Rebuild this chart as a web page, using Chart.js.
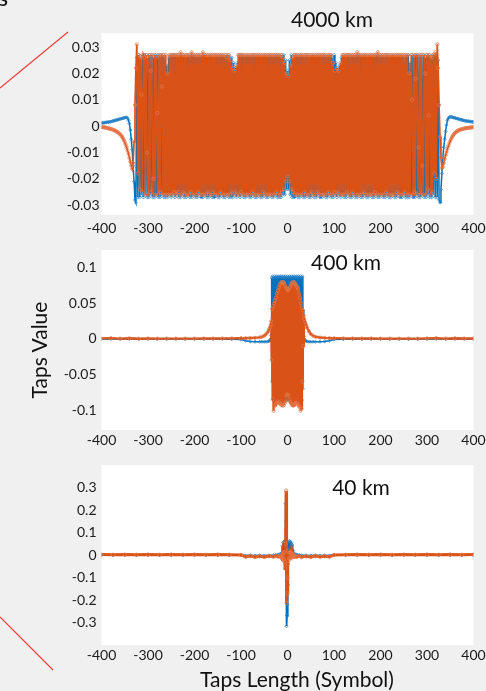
<!DOCTYPE html>
<html>
<head>
<meta charset="utf-8">
<script src="https://cdn.jsdelivr.net/npm/chart.js@4.4.1/dist/chart.umd.min.js"></script>
<style>
  html, body { margin:0; padding:0; background:#f0f0f0; }
  body { width:486px; height:691px; position:relative; overflow:hidden; font-family:Lato, "Open Sans", sans-serif; }
  canvas { position:absolute; left:0; }
  .lbl { position:absolute; transform:translate(-50%,-50%); white-space:nowrap; color:#111; line-height:1; }
</style>
</head>
<body>
<canvas id="c1" width="486" height="240" style="top:0px"></canvas>
<canvas id="c2" width="486" height="220" style="top:240px"></canvas>
<canvas id="c3" width="486" height="231" style="top:460px"></canvas>
<svg width="486" height="691" style="position:absolute;left:0;top:0;">
  <line x1="0" y1="88" x2="68" y2="32" stroke="#f03a3a" stroke-width="1.1"/>
  <line x1="0" y1="617" x2="53" y2="670" stroke="#f03a3a" stroke-width="1.1"/>
</svg>
<div class="lbl" style="left:3px;top:-3px;font-size:24px;">s</div>
<div class="lbl" style="left:332px;top:18px;font-size:21px;">4000 km</div>
<div class="lbl" style="left:346px;top:261px;font-size:21px;">400 km</div>
<div class="lbl" style="left:361px;top:486px;font-size:21px;">40 km</div>
<div class="lbl" style="left:38px;top:350px;font-size:21px;transform:translate(-50%,-50%) rotate(-90deg);">Taps Value</div>
<div class="lbl" style="left:297px;top:678px;font-size:21px;">Taps Length (Symbol)</div>
<script>
// ---------- tick labels ----------
const xTicks = [-400,-300,-200,-100,0,100,200,300,400];
const yTicks4000 = [-0.03,-0.02,-0.01,0,0.01,0.02,0.03];
const yTicks400 = [-0.1,-0.05,0,0.05,0.1];
const yTicks40 = [-0.3,-0.2,-0.1,0,0.1,0.2,0.3];

// ---------- 4000 km (taps -400..400, every 2nd symbol) ----------
const taps4000 = Array.from({length:401}, (_, i) => -400 + 2*i);
const orange4000 = [
-0.0003,-0.0004,-0.0004,-0.0005,-0.0005,-0.0006,-0.0007,-0.0008,-0.0009,-0.001,
-0.0011,-0.0012,-0.0013,-0.0015,-0.0016,-0.0018,-0.002,-0.0022,-0.0025,-0.0028,
-0.0031,-0.0035,-0.004,-0.0046,-0.0053,-0.0061,-0.007,-0.008,-0.0092,-0.0105,
-0.012,-0.0135,-0.015,-0.0162,-0.014,-0.006,0.008,0.022,0.031,-0.018,
0.027,-0.024,0.026,0.012,-0.025,0.027,0.026,-0.026,0.027,-0.01,
-0.026,0.027,-0.025,0.021,0.027,-0.026,-0.02,0.027,-0.026,0.026,
0.005,-0.026,0.027,-0.025,0.027,0.015,-0.026,0.027,-0.026,0.027,
-0.026,0.02,-0.026,0.027,-0.026,0.027,-0.026,0.027,-0.025,0.027,
-0.026,0.027,-0.025,0.027,-0.026,0.028,-0.026,0.027,-0.025,0.027,
-0.026,0.027,-0.026,0.027,-0.026,0.027,-0.025,0.028,-0.026,0.027,
-0.026,0.027,-0.026,0.027,-0.025,0.027,-0.026,0.027,-0.026,0.028,
-0.026,0.027,-0.026,0.027,-0.025,0.027,-0.026,0.027,-0.026,0.027,
-0.025,0.027,-0.026,0.027,-0.026,0.027,-0.026,0.027,-0.025,0.027,
-0.026,0.027,-0.026,0.027,-0.026,0.026,-0.026,0.027,-0.026,0.025,
-0.025,0.022,-0.026,0.021,-0.025,0.023,-0.026,0.027,-0.026,0.027,
-0.025,0.027,-0.026,0.027,-0.026,0.027,-0.026,0.027,-0.026,0.027,
-0.026,0.027,-0.025,0.027,-0.026,0.027,-0.026,0.027,-0.026,0.027,
-0.026,0.027,-0.026,0.027,-0.025,0.027,-0.026,0.027,-0.026,0.027,
-0.026,0.027,-0.026,0.027,-0.026,0.027,-0.026,0.027,-0.025,0.027,
-0.026,0.027,-0.026,0.027,-0.025,0.026,-0.024,0.024,-0.021,0.02,
-0.019,0.019,-0.021,0.023,-0.024,0.026,-0.025,0.027,-0.026,0.027,
-0.026,0.027,-0.026,0.027,-0.026,0.027,-0.026,0.027,-0.025,0.027,
-0.026,0.027,-0.026,0.027,-0.026,0.027,-0.025,0.027,-0.026,0.027,
-0.026,0.027,-0.025,0.027,-0.026,0.027,-0.026,0.027,-0.026,0.027,
-0.026,0.027,-0.026,0.027,-0.025,0.027,-0.026,0.027,-0.026,0.024,
-0.025,0.021,-0.026,0.022,-0.025,0.021,-0.026,0.024,-0.026,0.027,
-0.026,0.027,-0.026,0.027,-0.025,0.027,-0.026,0.027,-0.026,0.027,
-0.025,0.027,-0.026,0.027,-0.026,0.028,-0.026,0.027,-0.026,0.027,
-0.026,0.027,-0.025,0.027,-0.026,0.027,-0.026,0.027,-0.026,0.027,
-0.026,0.027,-0.026,0.027,-0.025,0.027,-0.026,0.028,-0.026,0.027,
-0.026,0.027,-0.026,0.027,-0.026,0.027,-0.025,0.027,-0.026,0.027,
-0.026,0.027,-0.026,0.027,-0.026,0.027,-0.026,0.027,-0.025,0.027,
-0.026,0.027,-0.026,0.027,-0.026,0.027,-0.025,0.027,-0.026,0.027,
-0.026,0.02,-0.026,0.027,0.01,-0.026,0.027,-0.025,0.018,0.027,
-0.026,-0.008,0.027,-0.026,0.027,-0.015,-0.026,0.027,0.02,-0.026,
0.027,-0.024,0.004,0.027,-0.026,0.026,-0.025,0.027,-0.018,0.028,
-0.02,0.031,0.022,0.008,-0.004,-0.012,-0.016,-0.0155,-0.014,-0.0125,
-0.011,-0.0098,-0.0086,-0.0075,-0.0065,-0.0056,-0.0048,-0.0041,-0.0035,-0.003,
-0.0026,-0.0023,-0.002,-0.0018,-0.0016,-0.0014,-0.0013,-0.0012,-0.0011,-0.001,
-0.0009,-0.0008,-0.0008,-0.0007,-0.0007,-0.0006,-0.0006,-0.0005,-0.0005,-0.0004,
-0.0004];
const blue4000 = [
0.0012,0.0012,0.0013,0.0013,0.0014,0.0014,0.0015,0.0015,0.0016,0.0016,
0.0017,0.0018,0.0019,0.002,0.0021,0.0022,0.0023,0.0024,0.0025,0.0026,
0.0027,0.0028,0.0029,0.003,0.0031,0.0032,0.0033,0.0033,0.003,0.0022,
0.001,-0.0015,-0.005,-0.009,-0.015,-0.021,-0.028,-0.029,0.026,-0.027,
0.027,-0.027,0.026,-0.026,0.027,-0.027,0.027,-0.026,0.027,-0.027,
0.026,-0.027,0.027,-0.026,0.027,-0.027,0.026,-0.027,0.027,-0.026,
0.027,-0.027,0.026,-0.027,0.027,-0.026,0.027,-0.027,0.025,-0.027,
0.023,-0.027,0.026,-0.026,0.027,-0.027,0.027,-0.026,0.027,-0.027,
0.027,-0.026,0.027,-0.027,0.026,-0.027,0.027,-0.026,0.027,-0.027,
0.026,-0.027,0.027,-0.026,0.027,-0.027,0.026,-0.027,0.027,-0.026,
0.027,-0.027,0.026,-0.027,0.027,-0.026,0.027,-0.027,0.026,-0.027,
0.027,-0.026,0.027,-0.027,0.026,-0.027,0.027,-0.026,0.027,-0.027,
0.026,-0.027,0.027,-0.026,0.027,-0.027,0.026,-0.027,0.027,-0.026,
0.027,-0.027,0.026,-0.027,0.027,-0.026,0.027,-0.027,0.026,-0.027,
0.026,-0.027,0.024,-0.026,0.022,-0.027,0.024,-0.026,0.027,-0.027,
0.027,-0.026,0.027,-0.027,0.026,-0.027,0.027,-0.026,0.027,-0.027,
0.026,-0.027,0.027,-0.026,0.027,-0.027,0.026,-0.027,0.027,-0.026,
0.027,-0.027,0.026,-0.027,0.027,-0.026,0.027,-0.027,0.026,-0.027,
0.027,-0.026,0.027,-0.027,0.026,-0.027,0.027,-0.026,0.027,-0.027,
0.027,-0.027,0.026,-0.027,0.027,-0.026,0.027,-0.026,0.025,-0.024,
0.021,-0.024,0.025,-0.026,0.027,-0.027,0.026,-0.027,0.027,-0.026,
0.027,-0.027,0.026,-0.027,0.027,-0.026,0.027,-0.027,0.026,-0.027,
0.027,-0.026,0.027,-0.027,0.026,-0.027,0.027,-0.026,0.027,-0.027,
0.026,-0.027,0.027,-0.026,0.027,-0.027,0.026,-0.027,0.027,-0.026,
0.027,-0.027,0.026,-0.027,0.027,-0.026,0.027,-0.027,0.026,-0.027,
0.027,-0.026,0.024,-0.027,0.022,-0.026,0.023,-0.027,0.026,-0.026,
0.027,-0.027,0.026,-0.027,0.027,-0.026,0.027,-0.027,0.026,-0.027,
0.027,-0.026,0.027,-0.027,0.026,-0.027,0.027,-0.026,0.027,-0.027,
0.026,-0.027,0.027,-0.026,0.027,-0.027,0.026,-0.027,0.027,-0.026,
0.027,-0.027,0.026,-0.027,0.027,-0.026,0.027,-0.027,0.026,-0.027,
0.027,-0.026,0.027,-0.027,0.026,-0.027,0.027,-0.026,0.027,-0.027,
0.026,-0.027,0.027,-0.026,0.027,-0.027,0.026,-0.027,0.027,-0.026,
0.027,-0.027,0.026,-0.027,0.027,-0.026,0.024,-0.027,0.027,-0.027,
0.027,-0.027,0.024,-0.026,0.027,-0.027,0.026,-0.027,0.027,-0.026,
0.027,-0.027,0.026,-0.027,0.027,-0.026,0.027,-0.027,0.026,-0.027,
0.027,-0.026,0.027,-0.027,0.026,-0.027,0.027,-0.026,0.027,-0.027,
0.026,-0.027,0.025,-0.028,-0.029,-0.024,-0.018,-0.012,-0.008,-0.005,
-0.002,0.0005,0.0022,0.003,0.0034,0.0035,0.0035,0.0034,0.0033,0.0032,
0.0031,0.003,0.0029,0.0028,0.0027,0.0026,0.0025,0.0024,0.0023,0.0022,
0.0021,0.002,0.002,0.0019,0.0019,0.0018,0.0018,0.0017,0.0017,0.0016,
0.0016];

// ---------- 400 km ----------
const taps400 = [
-400,-380,-360,-340,-320,-300,-280,-260,-240,-220,-200,-180,-160,-140,-120,-100,-90,-80,-70,-60,-55,-50,-46,-42,-40,-38,-36,
-35,-34,-33,-32,-31,-30,-29,-28,-27,-26,-25,-24,-23,-22,-21,-20,-19,-18,-17,-16,-15,-14,-13,-12,-11,-10,-9,-8,-7,-6,-5,-4,-3,-2,-1,
0,1,2,3,4,5,6,7,8,9,10,11,12,13,14,15,16,17,18,19,20,21,22,23,24,25,26,27,28,29,30,31,32,33,34,35,
36,38,40,42,46,50,55,60,70,80,90,100,120,140,160,180,200,220,240,260,280,300,320,340,360,380,400];
const orange400 = [
0.0006,0.0012,0.0004,0.0009,0.0003,0.0007,0.0004,0.0005,0.0004,0.0005,0.0005,0.0006,0.0006,0.0007,0.0008,0.001,0.0011,0.0013,0.0016,0.0022,0.003,0.0045,0.0068,0.01,0.013,0.016,0.02,
0.025,-0.03,0.042,-0.085,0.046,-0.101,0.05,-0.095,0.054,-0.093,0.058,-0.09,0.064,-0.088,0.068,-0.09,0.072,-0.089,0.076,-0.091,0.078,-0.092,0.08,-0.093,0.08,-0.094,0.08,-0.093,0.078,-0.09,0.075,-0.088,0.072,-0.08,0.07,
-0.078,0.068,-0.079,0.07,-0.085,0.073,-0.089,0.076,-0.091,0.078,-0.093,0.08,-0.094,0.08,-0.093,0.079,-0.091,0.077,-0.09,0.075,-0.09,0.073,-0.092,0.07,-0.094,0.064,-0.096,0.058,-0.101,0.05,-0.098,0.044,-0.06,0.04,-0.01,0.033,
0.028,0.024,0.02,0.016,0.011,0.007,0.0045,0.003,0.002,0.0015,0.0012,0.001,0.0008,0.0007,0.0006,0.0006,0.0005,0.0005,0.0004,0.0005,0.0004,0.0008,0.0012,0.0005,0.001,0.0006,0.0007];
const blue400 = [
0,0,0,0,0,0,0,0,0,0,0,0,0,-0.0002,-0.0004,-0.0008,-0.0025,-0.0035,-0.004,-0.004,-0.004,-0.004,-0.004,-0.0035,-0.003,-0.002,0,
0.005,0.086,-0.06,0.088,-0.085,0.087,-0.086,0.088,-0.085,0.087,-0.086,0.088,-0.085,0.087,-0.086,0.088,-0.085,0.087,-0.086,0.088,-0.085,0.087,-0.086,0.088,-0.085,0.087,-0.086,0.088,-0.085,0.087,-0.086,0.088,-0.085,0.087,-0.086,
0.088,-0.085,0.087,-0.086,0.088,-0.085,0.087,-0.086,0.088,-0.085,0.087,-0.086,0.088,-0.085,0.087,-0.086,0.088,-0.085,0.087,-0.086,0.088,-0.085,0.087,-0.086,0.088,-0.085,0.087,-0.086,0.088,-0.085,0.087,-0.086,0.088,-0.07,0.04,0.003,
0,-0.002,-0.003,-0.0035,-0.004,-0.004,-0.004,-0.004,-0.004,-0.0035,-0.0025,-0.0008,-0.0004,-0.0002,0,0,0,0,0,0,0,0,0,0,0,0,0];

// ---------- 40 km ----------
const taps40 = [
-400,-375,-350,-325,-300,-275,-250,-225,-200,-175,-150,-125,-100,-90,-80,-70,-60,-50,-40,-30,-25,-20,-16,-14,
-12,-11,-10,-9,-8,-7,-6,-5,-4,-3,-2,-1,0,1,2,3,4,5,6,7,8,9,10,11,12,
14,16,20,25,30,40,50,60,70,80,90,100,125,150,175,200,225,250,275,300,325,350,375,400];
const orange40 = [
0.002,0.001,0.002,0.001,0.002,0.001,0.002,0.001,0.002,0.001,0.002,0.001,0,-0.008,-0.005,-0.009,-0.006,-0.009,-0.005,-0.008,-0.004,-0.007,-0.003,-0.01,
-0.01,0.005,-0.015,0.01,-0.02,0.012,-0.03,-0.06,0.05,0.286,-0.214,-0.17,-0.1,-0.04,0.02,-0.015,0.01,-0.02,0.012,-0.01,0.008,-0.012,0.005,-0.008,0.004,
-0.009,-0.004,-0.008,-0.005,-0.009,-0.006,-0.009,-0.005,-0.008,-0.006,-0.008,0,0.001,0.002,0.001,0.002,0.001,0.002,0.001,0.002,0.001,0.002,0.001,0.002];
const blue40 = [
0,0,0,0,0,0,0,0,0,0,0,0,0,-0.003,-0.002,-0.003,-0.002,-0.003,-0.002,-0.002,0,0.002,0.004,0.006,
0.005,0.04,0,0.055,0.002,0.06,0,0.062,0.229,0.15,-0.316,-0.27,-0.22,-0.133,0.06,0,0.062,0.002,0.058,0,0.055,0.002,0.045,0,0.02,
0.006,0.004,0.002,0,-0.002,-0.002,-0.003,-0.002,-0.003,-0.002,-0.003,0,0,0,0,0,0,0,0,0,0,0,0,0];

// ---------- drawing ----------
const ORANGE = '#D95319', BLUE = '#0072BD';
const whiteArea = {
  id: 'whiteArea',
  beforeDraw(chart) {
    const {ctx, chartArea: a} = chart;
    ctx.save(); ctx.fillStyle = '#ffffff';
    ctx.fillRect(a.left, a.top, a.right - a.left, a.bottom - a.top);
    ctx.restore();
  }
};

function panel(id, taps, orange, blue, yTicks, yMin, yMax, cfg) {
  const pts = arr => taps.map((x, i) => ({x: x, y: arr[i]}));
  new Chart(document.getElementById(id), {
    type: 'line',
    data: {
      datasets: [
        { label: 'orange', data: pts(orange), borderColor: ORANGE, borderWidth: cfg.olw,
          pointRadius: cfg.pr, pointStyle: 'circle', pointBorderColor: 'rgba(228,120,75,0.9)',
          pointBackgroundColor: 'rgba(0,0,0,0)', pointBorderWidth: 0.8, tension: 0, order: 0 },
        { label: 'blue', data: pts(blue), borderColor: BLUE, borderWidth: cfg.blw,
          pointRadius: cfg.pr, pointStyle: 'rectRot', pointBorderColor: 'rgba(40,130,200,0.9)',
          pointBackgroundColor: 'rgba(0,0,0,0)', pointBorderWidth: 0.8, tension: 0, order: 1 }
      ]
    },
    options: {
      responsive: false, animation: false, devicePixelRatio: 1,
      layout: { padding: { top: cfg.top, right: 12.5, left: 0, bottom: 0 } },
      plugins: { legend: { display: false }, tooltip: { enabled: false } },
      scales: {
        x: {
          type: 'linear', min: -400, max: 400,
          border: { display: false }, grid: { display: false, drawTicks: false },
          ticks: { autoSkip: false, maxRotation: 0, padding: cfg.xpad, color: '#1a1a1a',
                   font: { family: 'Lato', size: 14 }, callback: v => String(v) },
          afterBuildTicks: s => { s.ticks = xTicks.map(v => ({value: v})); },
          afterFit: s => { s.height = cfg.xh; s.paddingLeft = 0; s.paddingRight = 0; }
        },
        y: {
          min: yMin, max: yMax,
          border: { display: false }, grid: { display: false, drawTicks: false },
          ticks: { autoSkip: false, padding: cfg.ypad, color: '#1a1a1a',
                   font: { family: 'Lato', size: 14 }, callback: v => String(v) },
          afterBuildTicks: s => { s.ticks = yTicks.map(v => ({value: v})); },
          afterFit: s => { s.width = 101.5; s.paddingTop = 0; s.paddingBottom = 0; }
        }
      }
    },
    plugins: [whiteArea]
  });
}

panel('c1', taps4000, orange4000, blue4000, yTicks4000, -0.0337, 0.0352,
      { top: 33.3, xh: 25, xpad: 5, ypad: 2, olw: 1.7, blw: 1.5, pr: 1.6 });
panel('c2', taps400, orange400, blue400, yTicks400, -0.128, 0.125,
      { top: 10, xh: 30, xpad: 2, ypad: 5, olw: 2.4, blw: 1.6, pr: 1.6 });
panel('c3', taps40, orange40, blue40, yTicks40, -0.4, 0.4,
      { top: 5, xh: 46, xpad: 2, ypad: 5, olw: 3, blw: 1.8, pr: 1.7 });
</script>
</body>
</html>
